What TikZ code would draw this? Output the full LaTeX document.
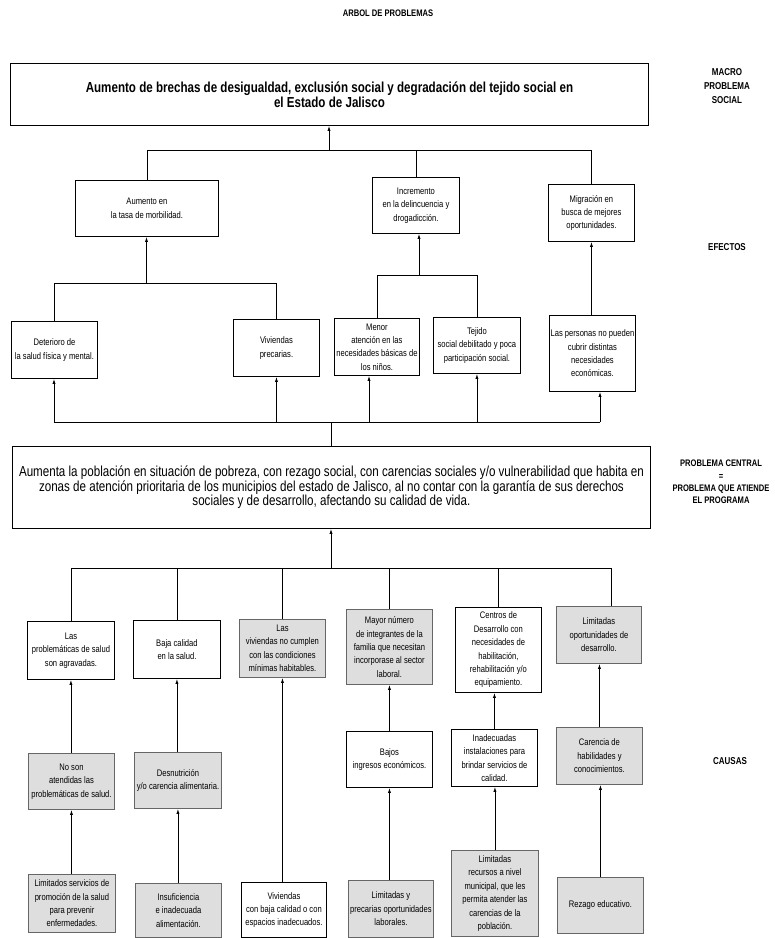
\documentclass[tikz,border=0pt]{standalone}
\usepackage{fontspec}
\setmainfont{Liberation Sans}[FakeStretch=0.8]
\usetikzlibrary{arrows.meta,calc}
\tikzset{
  conn/.style={line width=0.8pt, draw=black},
  arr/.style={conn, -{Latex[length=5pt,width=3.2pt]}},
  wbox/.style={draw=black, line width=0.9pt, fill=white, inner sep=1pt, align=center,
    anchor=north west, font=\fontsize{9.5}{13.4}\selectfont},
  gbox/.style={wbox, fill=black!13, draw=black!60},
  lbl/.style={align=center, font=\fontsize{10}{13}\selectfont\bfseries},
}
\begin{document}
\begin{tikzpicture}[x=1pt,y=-1pt]
\useasboundingbox (0,0) rectangle (775,938);
% title and side labels
\node[lbl, font=\fontsize{9.5}{13}\selectfont\bfseries] (title) at (388,13) {ARBOL DE PROBLEMAS};
\node[lbl, font=\fontsize{10}{14}\selectfont\bfseries] (lmacro) at (727,86) {MACRO\\PROBLEMA\\SOCIAL};
\node[lbl] (lefectos) at (727,247) {EFECTOS};
\node[lbl, font=\fontsize{9.5}{12.4}\selectfont\bfseries] (lcentral) at (721,482) {PROBLEMA CENTRAL\\=\\PROBLEMA QUE ATIENDE\\EL PROGRAMA};
\node[lbl] (lcausas) at (730,761) {CAUSAS};

% macro problem
\node[wbox, minimum width=638, minimum height=62, font=\fontsize{14.5}{15}\selectfont\bfseries] (top) at (10,63)
  {Aumento de brechas de desigualdad, exclusión social y degradación del tejido social en\\el Estado de Jalisco};

% effects level 1
\node[wbox, minimum width=143, minimum height=56] (e1) at (75,180) {Aumento en\\la tasa de morbilidad.};
\node[wbox, minimum width=87, minimum height=56] (e2) at (372,177) {Incremento\\en la delincuencia y\\drogadicción.};
\node[wbox, minimum width=86, minimum height=57] (e3) at (548,184) {Migración en\\busca de mejores\\oportunidades.};

% effects level 2
\node[wbox, minimum width=86, minimum height=57] (d1) at (11,321) {Deterioro de\\la salud física y mental.};
\node[wbox, minimum width=86, minimum height=57] (d2) at (233,319) {Viviendas\\precarias.};
\node[wbox, minimum width=85, minimum height=57] (d3) at (334,318) {Menor\\atención en las\\necesidades básicas de\\los niños.};
\node[wbox, minimum width=87, minimum height=56] (d4) at (433,317) {Tejido\\social debilitado y poca\\participación social.};
\node[wbox, minimum width=86, minimum height=76] (d5) at (549,315) {Las personas no pueden\\cubrir distintas\\necesidades\\económicas.};

% central problem
\node[wbox, minimum width=638, minimum height=82, font=\fontsize{14.5}{14.5}\selectfont] (c) at (12,446)
  {Aumenta la población en situación de pobreza, con rezago social, con carencias sociales y/o vulnerabilidad que habita en\\zonas de atención prioritaria de los municipios del estado de Jalisco, al no contar con la garantía de sus derechos\\sociales y de desarrollo, afectando su calidad de vida.};

% causes row 1
\node[wbox, minimum width=87, minimum height=58] (r1a) at (27,621) {Las\\problemáticas de salud\\son agravadas.};
\node[wbox, minimum width=87, minimum height=58] (r1b) at (133,620) {Baja calidad\\en la salud.};
\node[gbox, minimum width=86, minimum height=58] (r1c) at (239,619) {Las\\viviendas no cumplen\\con las condiciones\\mínimas habitables.};
\node[gbox, minimum width=86, minimum height=75] (r1d) at (346,609) {Mayor número\\de integrantes de la\\familia que necesitan\\incorporase al sector\\laboral.};
\node[wbox, minimum width=86, minimum height=85] (r1e) at (455,607) {Centros de\\Desarrollo con\\necesidades de\\habilitación,\\rehabilitación y/o\\equipamiento.};
\node[gbox, minimum width=85, minimum height=57] (r1f) at (556,606) {Limitadas\\oportunidades de\\desarrollo.};

% causes row 2
\node[gbox, minimum width=86, minimum height=56] (r2a) at (28,753) {No son\\atendidas las\\problemáticas de salud.};
\node[gbox, minimum width=87, minimum height=56] (r2b) at (134,752) {Desnutrición\\y/o carencia alimentaria.};
\node[wbox, minimum width=86, minimum height=56] (r2d) at (346,731) {Bajos\\ingresos económicos.};
\node[wbox, minimum width=86, minimum height=57] (r2e) at (451,729) {Inadecuadas\\instalaciones para\\brindar servicios de\\calidad.};
\node[gbox, minimum width=86, minimum height=57] (r2f) at (556,727) {Carencia de\\habilidades y\\conocimientos.};

% causes row 3
\node[gbox, minimum width=87, minimum height=58] (r3a) at (28,874) {Limitados servicios de\\promoción de la salud\\para prevenir\\enfermedades.};
\node[gbox, minimum width=86, minimum height=54] (r3b) at (135,883) {Insuficiencia\\e inadecuada\\alimentación.};
\node[wbox, minimum width=85, minimum height=55] (r3c) at (241,882) {Viviendas\\con baja calidad o con\\espacios inadecuados.};
\node[gbox, minimum width=85, minimum height=57] (r3d) at (348,880) {Limitadas y\\precarias oportunidades\\laborales.};
\node[gbox, minimum width=87, minimum height=86] (r3e) at (451,850) {Limitadas\\recursos a nivel\\municipal, que les\\permita atender las\\carencias de la\\población.};
\node[gbox, minimum width=86, minimum height=56] (r3f) at (557,877) {Rezago educativo.};

% junction coordinates
\coordinate (j1) at (329,150);
\coordinate (j2) at (146.5,283);
\coordinate (j3) at (419,275);
\coordinate (k1) at (54,422);
\coordinate (k3) at (369,422);
\coordinate (k5) at (600,422);
\coordinate (j5) at (331,568);
\coordinate (q6) at (611,568);

% effects tree
\draw[conn] (e1.north) |- (e3.north |- j1) -- (e3.north);
\draw[conn] (e2.north) -- (e2.north |- j1);
\draw[arr] (j1) -- (j1 |- top.south);
\draw[conn] (d1.north) |- (d2.north |- j2) -- (d2.north);
\draw[arr] (j2) -- (j2 |- e1.south);
\draw[conn] (d3.north) |- (d4.north |- j3) -- (d4.north);
\draw[arr] (j3) -- (j3 |- e2.south);
\draw[arr] (e3.south |- d5.north) -- (e3.south);

% central to effects
\draw[conn] (k1) -- (k5);
\draw[conn] (c.north) -- (c.north |- k1);
\draw[arr] (k1) -- (k1 |- d1.south);
\draw[arr] (d2.south |- k1) -- (d2.south);
\draw[arr] (k3) -- (k3 |- d3.south);
\draw[arr] (d4.south |- k1) -- (d4.south);
\draw[arr] (k5) -- (k5 |- d5.south);

% causes tree
\draw[conn] (r1a.north) |- (q6) -- (q6 |- r1f.north);
\draw[conn] (r1b.north) -- (r1b.north |- j5);
\draw[conn] (r1c.north) -- (r1c.north |- j5);
\draw[conn] (r1d.north) -- (r1d.north |- j5);
\draw[conn] (r1e.north) -- (r1e.north |- j5);
\draw[arr] (j5) -- (j5 |- c.south);

\draw[arr] (r1a.south |- r2a.north) -- (r1a.south);
\draw[arr] (r1b.south |- r2b.north) -- (r1b.south);
\draw[arr] (r1c.south |- r3c.north) -- (r1c.south);
\draw[arr] (r1d.south |- r2d.north) -- (r1d.south);
\draw[arr] (r2e.north) -- (r2e.north |- r1e.south);
\draw[arr] (r2f.north) -- (r2f.north |- r1f.south);

\draw[arr] (r2a.south |- r3a.north) -- (r2a.south);
\draw[arr] (r2b.south |- r3b.north) -- (r2b.south);
\draw[arr] (r2d.south |- r3d.north) -- (r2d.south);
\draw[arr] (r3e.north) -- (r3e.north |- r2e.south);
\draw[arr] (r3f.north) -- (r3f.north |- r2f.south);
\end{tikzpicture}
\end{document}
